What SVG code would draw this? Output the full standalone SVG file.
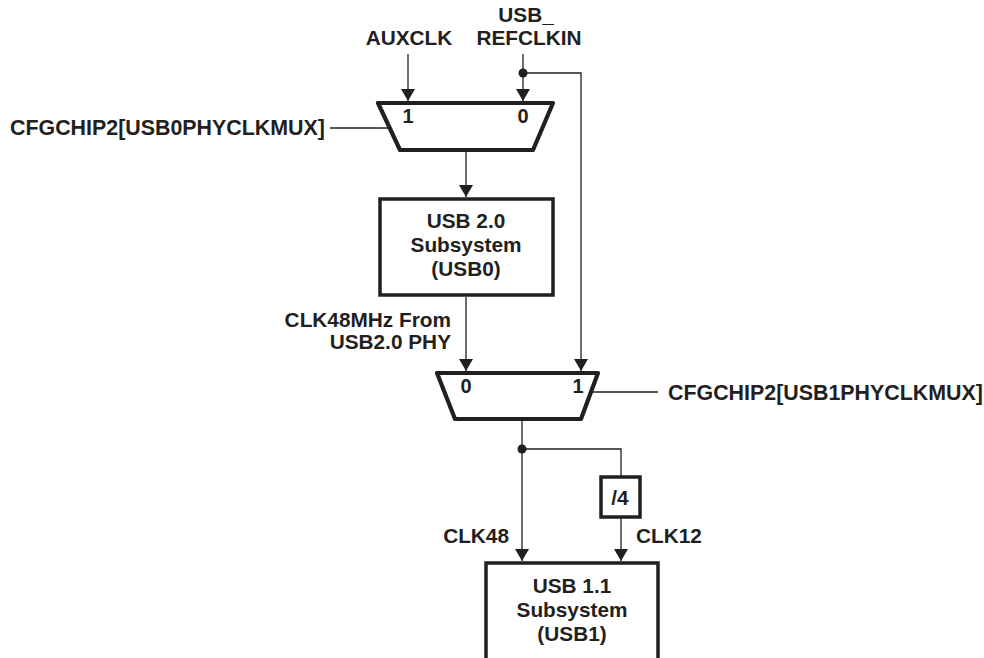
<svg xmlns="http://www.w3.org/2000/svg" width="984" height="658" viewBox="0 0 984 658">
<defs>
<marker id="arr" viewBox="0 0 12 14" refX="12" refY="7" markerWidth="12" markerHeight="14" markerUnits="userSpaceOnUse" orient="auto">
<path d="M0,0 L12,7 L0,14 z" fill="#231f20"/>
</marker>
</defs>
<style>
text{font-family:"Liberation Sans",Arial,sans-serif;font-weight:bold;fill:#231f20;font-size:20.8px}
.c{text-anchor:middle}
.r{text-anchor:end}
.cfg{font-size:21.4px}
.num{font-size:20px}
.mux{fill:#fff;stroke:#231f20;stroke-width:4.2;stroke-linejoin:round}
.box{fill:#fff;stroke:#231f20;stroke-width:3.5}
.w{fill:none;stroke:#231f20;stroke-width:1.3}
.a{marker-end:url(#arr)}
.dot{fill:#231f20}
</style>
<rect width="984" height="658" fill="#fff"/>
<g id="connectors">
<line class="w a" x1="408" y1="54" x2="408" y2="101"/>
<line class="w a" x1="523" y1="54" x2="523" y2="101"/>
<polyline class="w" points="523,73 581,73 581,350"/>
<line class="w a" x1="581" y1="350" x2="581" y2="371"/>
<line class="w" x1="330" y1="128" x2="389" y2="128"/>
<line class="w a" x1="466" y1="152" x2="466" y2="197"/>
<line class="w a" x1="466" y1="297" x2="466" y2="371"/>
<line class="w" x1="591" y1="392" x2="658" y2="392"/>
<line class="w a" x1="522" y1="421" x2="522" y2="561"/>
<polyline class="w" points="522,449 621,449 621,477"/>
<line class="w a" x1="621" y1="517" x2="621" y2="561"/>
<circle class="dot" cx="523" cy="73" r="4.5"/>
<circle class="dot" cx="522" cy="449" r="4.5"/>
</g>
<g id="labels">
<text class="c" x="409" y="45">AUXCLK</text>
<text class="c" x="526" y="22">USB_</text>
<text class="c" x="529" y="45">REFCLKIN</text>
<text class="cfg" x="10" y="135">CFGCHIP2[USB0PHYCLKMUX]</text>
<text class="r" x="451" y="327">CLK48MHz From</text>
<text class="r" x="451" y="349">USB2.0 PHY</text>
<text class="cfg" x="668" y="400">CFGCHIP2[USB1PHYCLKMUX]</text>
<text class="r" x="509" y="543">CLK48</text>
<text x="636" y="543">CLK12</text>
</g>
<g id="mux0">
<polygon class="mux" points="378,103 553,103 533,150 400,150"/>
<text class="c num" x="408" y="123">1</text>
<text class="c num" x="523" y="123">0</text>
</g>
<g id="usb0">
<rect class="box" x="380" y="199" width="173" height="96"/>
<text class="c" x="466" y="228">USB 2.0</text>
<text class="c" x="466" y="252">Subsystem</text>
<text class="c" x="466" y="276">(USB0)</text>
</g>
<g id="mux1">
<polygon class="mux" points="437,373 598,373 581,419 455,419"/>
<text class="c num" x="466" y="393">0</text>
<text class="c num" x="578" y="393">1</text>
</g>
<g id="div4">
<rect class="box" x="601" y="477" width="39" height="40"/>
<text class="c" x="620" y="505">/4</text>
</g>
<g id="usb1">
<rect class="box" x="486" y="563" width="172" height="110"/>
<text class="c" x="572" y="593">USB 1.1</text>
<text class="c" x="572" y="617">Subsystem</text>
<text class="c" x="572" y="641">(USB1)</text>
</g>
</svg>
